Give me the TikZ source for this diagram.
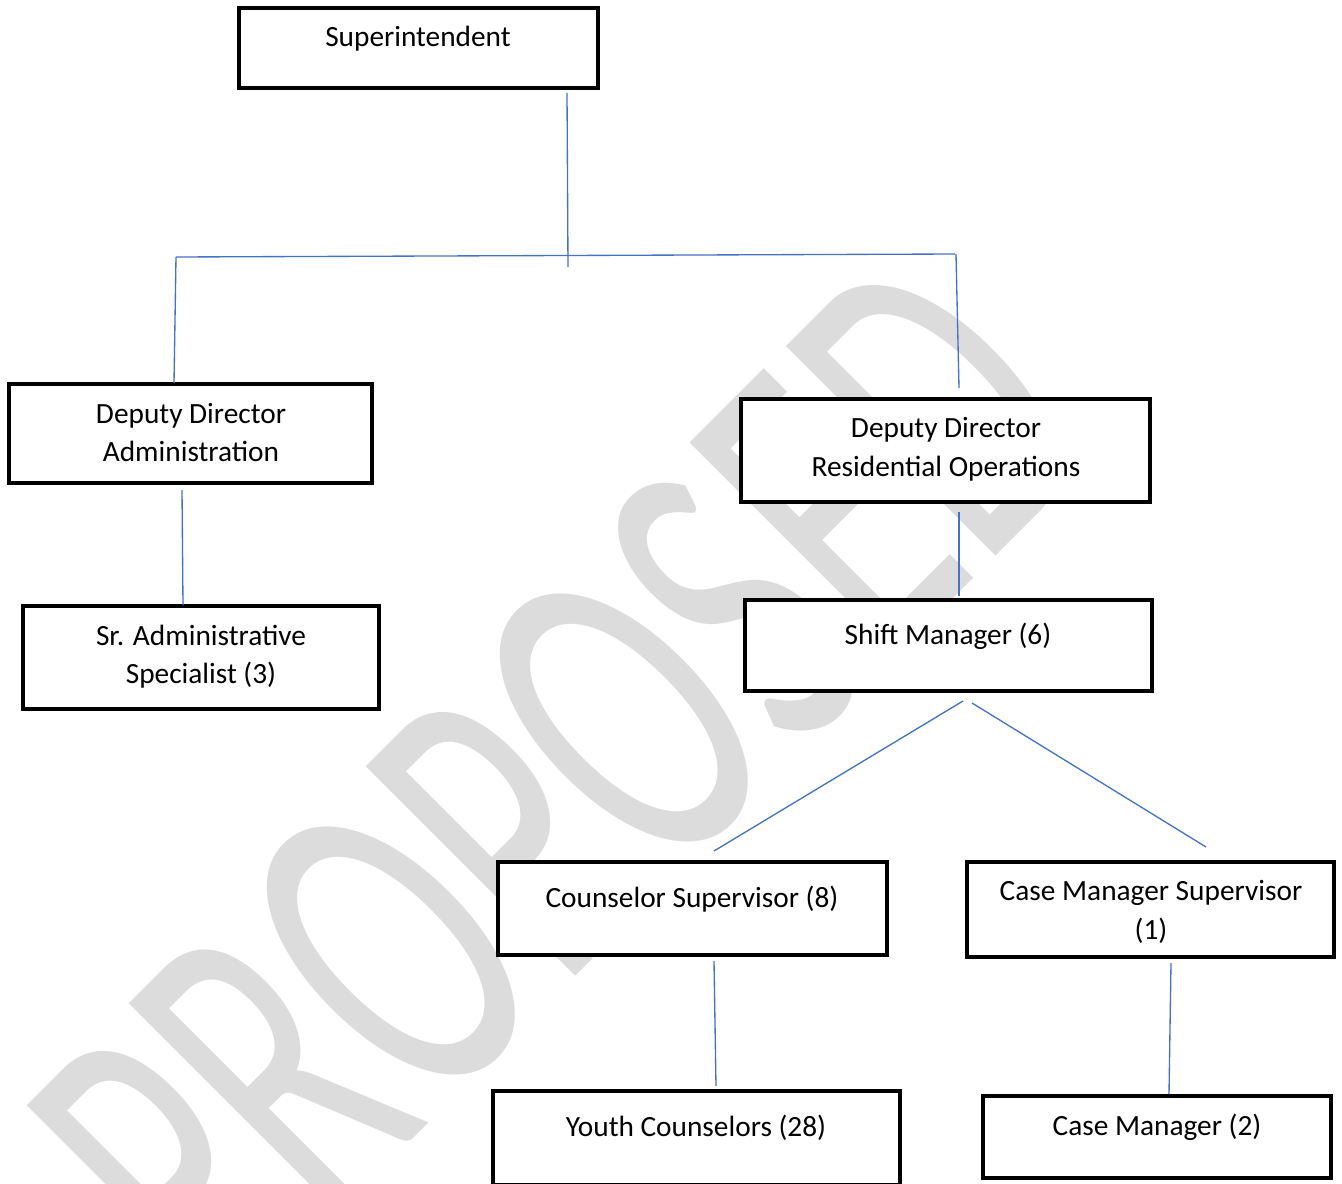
\documentclass[tikz,border=0pt]{standalone}
\usepackage{fontspec}
\setmainfont{Carlito}
\usetikzlibrary{fit}
\definecolor{wmgray}{RGB}{220,220,220}
\definecolor{linkblue}{RGB}{68,114,196}
\tikzset{
  box/.style={draw=black, line width=2.4pt, fill=white, inner sep=0pt},
  lbl/.style={inner sep=0pt, anchor=base, font=\fontsize{22}{26}\selectfont},
  link/.style={draw=linkblue, line width=1pt},
  wm/.style={inner sep=0pt, text=wmgray, rotate=45, font=\fontsize{210}{210}\selectfont}
}
\begin{document}
\begin{tikzpicture}[x=0.75pt, y=-0.75pt]
\useasboundingbox (0,0) rectangle (1342,1184);
\begin{scope}
  \clip (0,0) rectangle (1342,1184);
  \node[wm, anchor=base west] (mark) at (222,1330) {\scalebox{1}[1.65]{PROPOSED}};
\end{scope}
% boxes
\node[box, fit={(239,8) (598,88)}] (sup) {};
\node[box, fit={(9,384) (372,483)}] (dda) {};
\node[box, fit={(23,606) (379,709)}] (sas) {};
\node[box, fit={(741,399) (1150,502)}] (ddr) {};
\node[box, fit={(745,600) (1152,691)}] (sm) {};
\node[box, fit={(498,862) (887,955)}] (cs) {};
\node[box, fit={(967,862) (1334,957)}] (cms) {};
\node[box, fit={(493,1091) (900,1185)}] (yc) {};
\node[box, fit={(983,1096) (1331,1178)}] (cm) {};
% labels
\node[lbl] (supT) at (418,47) {Superintendent};
\node[lbl] (ddaT1) at (191,423) {Deputy Director};
\node[lbl] (ddaT2) at (191,461) {Administration};
\node[lbl] (sasT1) at (201,645) {Sr. Administrative};
\node[lbl] (sasT2) at (201,683) {Specialist (3)};
\node[lbl] (ddrT1) at (946,437) {Deputy Director};
\node[lbl] (ddrT2) at (946,476) {Residential Operations};
\node[lbl] (smT) at (948,644) {Shift Manager (6)};
\node[lbl] (csT) at (692,907) {Counselor Supervisor (8)};
\node[lbl] (cmsT1) at (1151,900) {Case Manager Supervisor};
\node[lbl] (cmsT2) at (1151,939) {(1)};
\node[lbl] (ycT) at (696,1136) {Youth Counselors (28)};
\node[lbl] (cmT) at (1157,1135) {Case Manager (2)};
% connector end points
\coordinate (p1) at (567,93);
\coordinate (p2) at (568,267);
\coordinate (hl) at (176,257);
\coordinate (hr) at (955,254);
\coordinate (vl) at (174,383);
\coordinate (vr0) at (956,254);
\coordinate (vr) at (959,388);
\coordinate (a1) at (182,490);
\coordinate (a2) at (183,605);
\coordinate (r1) at (959,512);
\coordinate (r2) at (959,596);
\coordinate (s1) at (963,701);
\coordinate (s2) at (714,851);
\coordinate (s3) at (972,703);
\coordinate (s4) at (1206,847);
\coordinate (c1) at (714,961);
\coordinate (c2) at (716,1086);
\coordinate (m1) at (1171,963);
\coordinate (m2) at (1169,1094);
% connectors
\draw[link] (p1) -- (p2);
\draw[link] (hl) -- (hr);
\draw[link] (hl) -- (vl);
\draw[link] (vr0) -- (vr);
\draw[link] (a1) -- (a2);
\draw[link] (r1) -- (r2);
\draw[link] (s1) -- (s2);
\draw[link] (s3) -- (s4);
\draw[link] (c1) -- (c2);
\draw[link] (m1) -- (m2);
\end{tikzpicture}
\end{document}
